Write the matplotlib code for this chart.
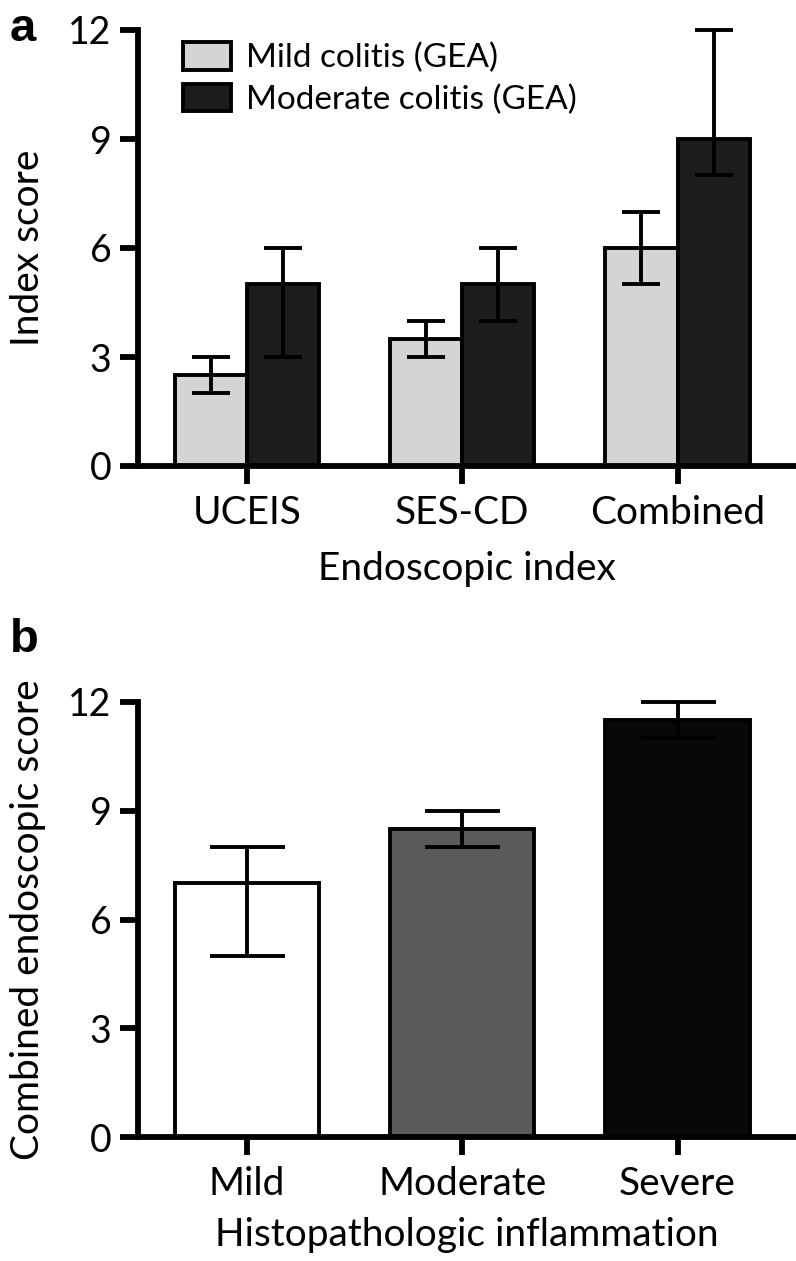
import matplotlib
matplotlib.use("Agg")
import matplotlib.pyplot as plt
import numpy as np
from matplotlib.patches import Patch

plt.rcParams['font.family'] = ['Lato', 'DejaVu Sans']

# Panel a data
categories_a = ["UCEIS", "SES-CD", "Combined"]
mild_vals = [2.5, 3.5, 6.0]
mild_low = [2.0, 3.0, 5.0]
mild_high = [3.0, 4.0, 7.0]
mod_vals = [5.0, 5.0, 9.0]
mod_low = [3.0, 4.0, 8.0]
mod_high = [6.0, 6.0, 12.0]
series_names = ["Mild colitis (GEA)", "Moderate colitis (GEA)"]

# Panel b data
categories_b = ["Mild", "Moderate", "Severe"]
b_vals = [7.0, 8.5, 11.5]
b_low = [5.0, 8.0, 11.0]
b_high = [8.0, 9.0, 12.0]

yticks = [0, 3, 6, 9, 12]

W, H = 796, 1261
fig = plt.figure(figsize=(W / 100, H / 100), dpi=100)

def ax_rect(left, right, top, bottom):
    return [left / W, 1 - bottom / H, (right - left) / W, (bottom - top) / H]

XTICK_FS = 28
YTICK_FS = 27
LAB_FS = 28
LEG_FS = 24
SPINE_LW = 4.2
EDGE_LW = 2.8

def style_axes(ax):
    for s in ['top', 'right']:
        ax.spines[s].set_visible(False)
    ax.spines['left'].set_linewidth(SPINE_LW)
    ax.spines['bottom'].set_linewidth(SPINE_LW)
    ax.spines['left'].set_bounds(0, 12)
    ax.set_ylim(0, 12)
    ax.set_xlim(-0.505, 2.55)
    ax.set_yticks(yticks)
    ax.set_yticklabels([str(t) for t in yticks])
    ax.tick_params(axis='both', width=SPINE_LW, length=13)
    ax.tick_params(axis='y', labelsize=YTICK_FS, pad=6)
    ax.tick_params(axis='x', labelsize=XTICK_FS, pad=8)

# ---------- Panel a ----------
ax1 = fig.add_axes(ax_rect(138, 796, 30, 466))
x = np.arange(len(categories_a))
bw = 0.335
ax1.bar(x - bw / 2, mild_vals, bw, color='#d4d4d4', edgecolor='black', linewidth=EDGE_LW,
        label=series_names[0], zorder=2)
ax1.bar(x + bw / 2, mod_vals, bw, color='#1c1c1c', edgecolor='black', linewidth=EDGE_LW,
        label=series_names[1], zorder=2)
err_m = [np.array(mild_vals) - np.array(mild_low), np.array(mild_high) - np.array(mild_vals)]
err_d = [np.array(mod_vals) - np.array(mod_low), np.array(mod_high) - np.array(mod_vals)]
ax1.errorbar(x - bw / 2, mild_vals, yerr=err_m, fmt='none', ecolor='black', elinewidth=EDGE_LW,
             capsize=14, capthick=EDGE_LW, zorder=3, clip_on=False)
ax1.errorbar(x + bw / 2, mod_vals, yerr=err_d, fmt='none', ecolor='black', elinewidth=EDGE_LW,
             capsize=14, capthick=EDGE_LW, zorder=3, clip_on=False)
style_axes(ax1)
ax1.set_xticks(x)
ax1.set_xticklabels(categories_a)
ax1.set_ylabel("Index score", fontsize=LAB_FS, labelpad=16)
ax1.set_xlabel("Endoscopic index", fontsize=LAB_FS, labelpad=14)
handles = [Patch(facecolor='#d4d4d4', edgecolor='black', linewidth=EDGE_LW),
           Patch(facecolor='#1c1c1c', edgecolor='black', linewidth=EDGE_LW)]
ax1.legend(handles, series_names, loc='upper left', bbox_to_anchor=(0.068, 0.972),
           frameon=False, fontsize=LEG_FS, handlelength=1.45, handleheight=0.9,
           handletextpad=0.45, labelspacing=0.3, borderpad=0, borderaxespad=0)

# ---------- Panel b ----------
ax2 = fig.add_axes(ax_rect(138, 796, 702, 1137))
xb = np.arange(len(categories_b))
bwb = 0.67
ax2.bar(xb, b_vals, bwb, color=['#ffffff', '#5a5a5a', '#080808'], edgecolor='black',
        linewidth=EDGE_LW, zorder=2)
err_b = [np.array(b_vals) - np.array(b_low), np.array(b_high) - np.array(b_vals)]
ax2.errorbar(xb, b_vals, yerr=err_b, fmt='none', ecolor='black', elinewidth=EDGE_LW,
             capsize=27, capthick=EDGE_LW, zorder=3, clip_on=False)
style_axes(ax2)
ax2.set_xticks(xb)
ax2.set_xticklabels(categories_b)
ax2.set_ylabel("Combined endoscopic score", fontsize=LAB_FS, labelpad=16)
ax2.set_xlabel("Histopathologic inflammation", fontsize=LAB_FS, labelpad=11)

fig.text(10 / W, 1 - 29 / H, "a", fontsize=34, fontweight='bold', va='center', ha='left',
         family=['Liberation Sans', 'DejaVu Sans'])
fig.text(10 / W, 1 - 640 / H, "b", fontsize=34, fontweight='bold', va='center', ha='left',
         family=['Liberation Sans', 'DejaVu Sans'])

fig.savefig("out.png", dpi=100)
